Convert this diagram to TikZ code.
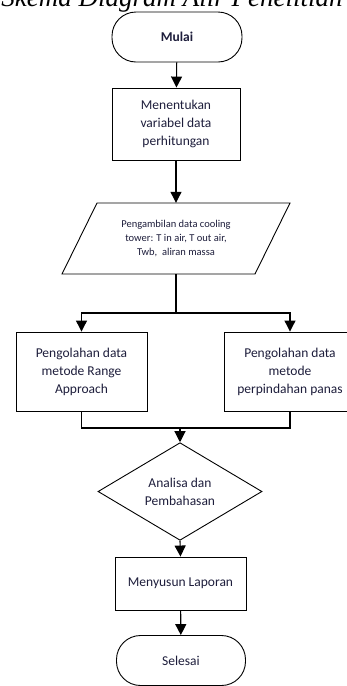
\documentclass[tikz,border=0pt]{standalone}
\usepackage{fontspec}
\setmainfont{Carlito}
\newfontfamily\titlefont{Liberation Serif}
\usetikzlibrary{shapes.geometric,arrows.meta}
\definecolor{txt}{HTML}{1E1E3C}
\tikzset{
  x=1pt,y=-1pt,
  line/.style={draw=black,line width=1.1pt},
  arr/.style={line,-{Triangle[width=11pt,length=11pt]}},
  term/.style={draw=black,line width=0.9pt,rectangle,rounded corners=24pt,minimum width=130pt,minimum height=50pt,font=\fontsize{13.5}{15}\selectfont\color{txt},align=center},
  proc/.style={draw=black,line width=0.9pt,rectangle,minimum width=130pt,font=\fontsize{13.5}{18}\selectfont\color{txt},align=center,inner sep=2pt},
  dec/.style={draw=black,line width=0.9pt,diamond,minimum width=164pt,minimum height=77pt,font=\fontsize{13.5}{18}\selectfont\color{txt},align=center,inner sep=0pt},
}
\begin{document}
\begin{tikzpicture}
\useasboundingbox (0,0) rectangle (347,686);
\clip (0,0) rectangle (347,686);
\fill[white] (0,0) rectangle (347,686);
\node[anchor=base,inner sep=0pt,font=\titlefont\itshape\fontsize{27}{29}\selectfont] (title) at (172,6) {Skema Diagram Alir Penelitian};
\node[term,font=\bfseries\fontsize{13.5}{15}\selectfont\color{txt}] (mulai) at (177,37) {Mulai};
\node[proc,minimum width=128pt,minimum height=72pt] (tentukan) at (176,124) {Menentukan\\variabel data\\perhitungan};
\node[minimum width=150pt,minimum height=71pt,inner sep=0pt,font=\fontsize{10.5}{14}\selectfont\color{txt},align=center] (ambil) at (176,238.5) {Pengambilan data cooling\\tower: T in air, T out air,\\Twb,\ \ aliran massa};
\draw[line width=0.9pt] (97,203) -- (290,203) -- (255,274) -- (62,274) -- cycle;
\node[proc,minimum width=131pt,minimum height=79pt] (range) at (81.5,371.5) {Pengolahan data\\metode Range\\Approach};
\node[proc,minimum width=131pt,minimum height=79pt] (panas) at (290,371.5) {Pengolahan data\\metode\\perpindahan panas};
\coordinate (split) at (176,313);
\coordinate (join) at (180,428);
\node[dec] (analisa) at (180,491.5) {Analisa dan\\Pembahasan};
\node[proc,minimum width=131pt,minimum height=53pt] (lapor) at (180.5,583.5) {Menyusun Laporan};
\node[term,minimum width=129pt] (selesai) at (181,660.5) {Selesai};
\draw[arr] (mulai) -- (tentukan);
\draw[arr] (tentukan) -- (ambil.north);
\draw[line] (ambil.south) -- (split);
\draw[arr] (split) -| (range.north);
\draw[arr] (split) -| (panas.north);
\draw[line] (range.south) |- (join);
\draw[line] (panas.south) |- (join);
\draw[arr] (join) -- (analisa.north);
\draw[arr] (analisa.south) -- (lapor.north);
\draw[arr] (lapor) -- (selesai);
\end{tikzpicture}
\end{document}
